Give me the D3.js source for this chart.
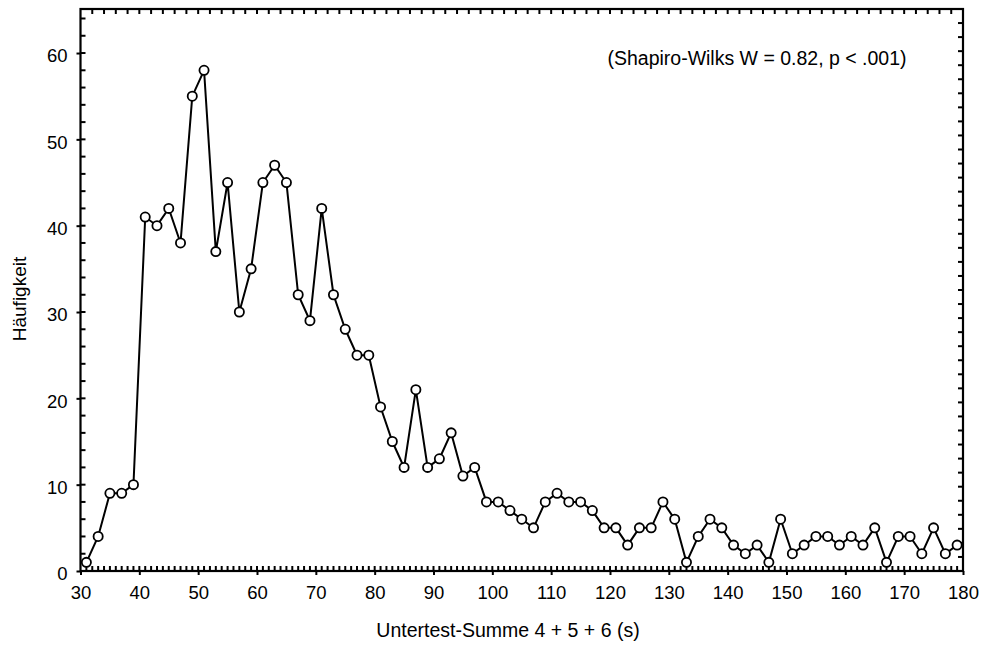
<!DOCTYPE html>
<meta charset="utf-8">
<script src="https://cdn.jsdelivr.net/npm/d3@7"></script>
<style>
body { margin: 0; background: #fff; font-family: "Liberation Sans", Arial, sans-serif; }
.tick text { font-size: 18.5px; font-family: "Liberation Sans", Arial, sans-serif; fill: #000; }
.domain { display: none; }
</style>
<body>
<script>
// Häufigkeit je Untertest-Summe (Klassenmitten 31, 33, ... 179)
var xValues = d3.range(31, 180, 2);
var counts = [1, 4, 9, 9, 10, 41, 40, 42, 38, 55, 58, 37, 45, 30, 35, 45, 47, 45, 32, 29,
              42, 32, 28, 25, 25, 19, 15, 12, 21, 12, 13, 16, 11, 12, 8, 8, 7, 6, 5, 8,
              9, 8, 8, 7, 5, 5, 3, 5, 5, 8, 6, 1, 4, 6, 5, 3, 2, 3, 1, 6,
              2, 3, 4, 4, 3, 4, 3, 5, 1, 4, 4, 2, 5, 2, 3];
var xTicks = d3.range(30, 181, 10);
var yTicks = d3.range(0, 61, 10);

var w = 981, h = 646,
    margin = {top: 9, right: 18, bottom: 75, left: 80.5};

var svg = d3.select("body").append("svg")
    .attr("width", w)
    .attr("height", h);

var x = d3.scaleLinear().domain([30, 180]).range([margin.left, w - margin.right]);
var y = d3.scaleLinear().domain([0, 65.1]).range([h - margin.bottom, margin.top]);
var yRight = d3.scaleLinear().domain([0, 40]).range([h - margin.bottom, margin.top]); // right axis ticks only

// minor ticks (inside the frame)
var minor = svg.append("g").attr("stroke", "#000").attr("stroke-width", 2);
minor.selectAll("line.bt").data(d3.range(31, 180, 1)).enter().append("line")
    .attr("class", "bt")
    .attr("x1", d => x(d)).attr("x2", d => x(d))
    .attr("y1", y(0)).attr("y2", y(0) - 5);
minor.selectAll("line.tt").data(d3.range(32, 180, 2)).enter().append("line")
    .attr("class", "tt")
    .attr("x1", d => x(d)).attr("x2", d => x(d))
    .attr("y1", y(65.1)).attr("y2", y(65.1) + 5);
minor.selectAll("line.lt").data(d3.range(2, 65, 2)).enter().append("line")
    .attr("class", "lt")
    .attr("x1", x(30)).attr("x2", x(30) + 5)
    .attr("y1", d => y(d)).attr("y2", d => y(d));
minor.selectAll("line.rt").data(d3.range(1, 40, 1)).enter().append("line")
    .attr("class", "rt")
    .attr("x1", x(180)).attr("x2", x(180) - 5)
    .attr("y1", d => yRight(d)).attr("y2", d => yRight(d));

// axes
svg.append("g")
    .attr("transform", "translate(0," + y(0) + ")")
    .call(d3.axisBottom(x).tickValues(xTicks).tickSize(4).tickPadding(11))
    .call(g => g.selectAll(".tick line").attr("stroke-width", 2));

svg.append("g")
    .attr("transform", "translate(" + x(30) + ",0)")
    .call(d3.axisLeft(y).tickValues(yTicks).tickSize(4).tickPadding(9))
    .call(g => g.selectAll(".tick line").attr("stroke-width", 2))
    .call(g => g.selectAll(".tick text").attr("dy", "0.48em"));

// frame
svg.append("rect")
    .attr("x", x(30)).attr("y", y(65.1))
    .attr("width", x(180) - x(30)).attr("height", y(0) - y(65.1))
    .attr("fill", "none").attr("stroke", "#000").attr("stroke-width", 2.2);

// line + markers
var line = d3.line().x((d, i) => x(xValues[i])).y(d => y(d));
svg.append("path")
    .datum(counts)
    .attr("d", line)
    .attr("fill", "none")
    .attr("stroke", "#000")
    .attr("stroke-width", 2);

svg.append("g").selectAll("circle")
    .data(counts).enter().append("circle")
    .attr("cx", (d, i) => x(xValues[i]))
    .attr("cy", d => y(d))
    .attr("r", 4.6)
    .attr("fill", "#fff")
    .attr("stroke", "#000")
    .attr("stroke-width", 1.8);

// labels
svg.append("text")
    .attr("x", 508)
    .attr("y", 637)
    .attr("text-anchor", "middle")
    .style("font-size", "19.5px")
    .text("Untertest-Summe 4 + 5 + 6 (s)");

svg.append("text")
    .attr("transform", "translate(26,299) rotate(-90)")
    .attr("text-anchor", "middle")
    .style("font-size", "19px")
    .text("Häufigkeit");

svg.append("text")
    .attr("x", 757)
    .attr("y", 65)
    .attr("text-anchor", "middle")
    .style("font-size", "19.5px")
    .text("(Shapiro-Wilks W = 0.82, p < .001)");
</script>
</body>
